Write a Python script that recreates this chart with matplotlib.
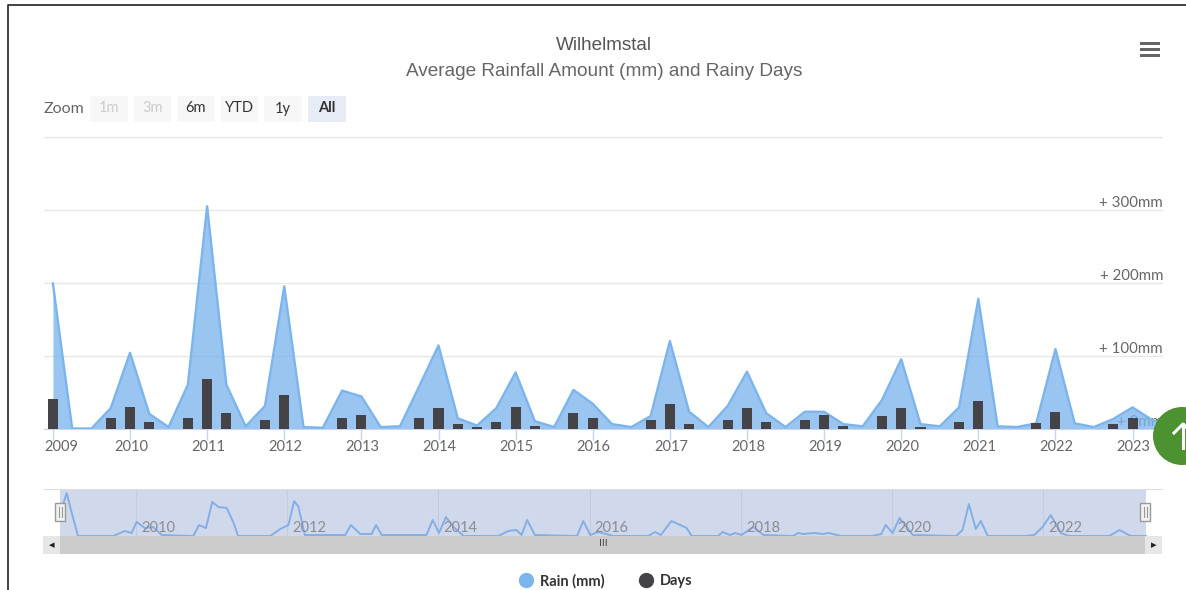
import numpy as np
import matplotlib
matplotlib.use('Agg')
import matplotlib.pyplot as plt
from matplotlib.lines import Line2D
from matplotlib.patches import Circle, Rectangle
from matplotlib.transforms import ScaledTranslation

W, H = 1186, 590

# quarterly values, first point is Jan 2009, then Apr, Jul, Oct ...
rain = [199, 0, 0, 28, 104, 20, 2, 60, 305, 60, 3, 31, 195, 2, 1, 52,
        44, 2, 3, 58, 114, 14, 4, 28, 77, 10, 2, 53, 34, 6, 2, 17,
        120, 23, 2, 31, 78, 21, 2, 23, 23, 6, 3, 39, 95, 6, 3, 29,
        178, 3, 2, 7, 109, 7, 2, 13, 29, 12, 0]
days = [40, 0, 0, 14, 30, 9, 0, 15, 68, 21, 0, 12, 46, 0, 0, 15,
        19, 0, 0, 14, 28, 6, 2, 9, 30, 4, 0, 21, 14, 0, 0, 12,
        33, 6, 0, 11, 28, 9, 0, 11, 18, 3, 0, 17, 28, 2, 0, 9,
        38, 0, 0, 7, 22, 0, 0, 6, 15, 0, 0]
years = list(range(2009, 2024))
y_ticks = [0, 100, 200, 300, 400]
y_labels = ['+ 0mm', '+ 100mm', '+ 200mm', '+ 300mm', '']

# navigator line, month counted from Jan 2009 and relative height
nav_month = [0, 1, 1.8, 2.8, 8.4, 10.2, 11.3, 12.1, 13.4, 14.7, 16.1, 21.1, 22, 23.1, 24.1, 25.1, 26.4,
             27.5, 28.2, 33.3, 34.9, 36.2, 37.1, 37.8, 38.8, 45.2, 46.1, 47.6, 49.4, 50.1, 51, 57.1, 58.1,
             59.1, 60.1, 61.2, 62.4, 64, 69.5, 71.1, 72.4, 73.2, 74.1, 75.3, 82, 83, 84.1, 85.4, 87.8,
             93.3, 94.4, 95.3, 97, 99.4, 100.2, 104.4, 105.1, 106.3, 107.1, 108.1, 110, 111.6, 116.3,
             117.1, 117.9, 119.7, 121, 122, 123.9, 128.9, 130.3, 131, 132.1, 133.2, 135.3, 142.2, 143.2,
             144.2, 145.3, 146.1, 147.2, 153, 154.6, 155.9, 157.2, 158.8, 160.1, 166.5, 168.1, 169.9, 172.3]
nav_val = [23, 43, 23, 0, 0, 5, 3, 14, 8, 9, 1, 0, 11, 8, 34, 29, 28,
           13, 0, 0, 7, 11, 35, 29, 1, 1, 11, 2, 2, 11, 1, 1, 1,
           16, 3, 19, 9, 0, 0, 5, 6, 1, 16, 1, 0, 15, 1, 4, 0,
           0, 4, 1, 15, 8, 0, 0, 4, 1, 3, 1, 9, 1, 0,
           3, 2, 3, 2, 3, 0, 0, 2, 11, 3, 18, 1, 0, 6,
           32, 7, 15, 0, 0, 1, 9, 21, 3, 0, 0, 6, 0, 0]
nav_years = [2010, 2012, 2014, 2016, 2018, 2020, 2022]

buttons = ['1m', '3m', '6m', 'YTD', '1y', 'All']

UI = 'Lato'
BLUE = '#7cb5ec'
DARK = '#434348'


def px_axes(x0, x1, y_top, y_bot):
    return fig.add_axes([x0 / W, 1 - y_bot / H, (x1 - x0) / W, (y_bot - y_top) / H])


fig = plt.figure(figsize=(W / 100, H / 100), dpi=100, facecolor='white')

# main chart
ax = px_axes(44, 1163, 137, 428.5)
q = np.arange(len(rain))
ax.fill_between(q, rain, color=BLUE, alpha=0.78, lw=0, zorder=2)
ax.plot(q, rain, color=BLUE, lw=1.7, zorder=3)
ax.bar(q, days, width=0.52, color=DARK, zorder=4)
ax.set_xlim((44 - 52.9) / 19.28, (1163 - 52.9) / 19.28)
ax.set_ylim(0, 400)
ax.set_xticks(np.arange(len(years)) * 4)
ax.set_xticklabels(years, family=UI, fontsize=10.5, color='#666666')
ax.tick_params(axis='x', length=8, width=1, color='#ccd6eb', pad=0)
ax.yaxis.tick_right()
ax.set_yticks(y_ticks)
ax.set_yticklabels(y_labels, family=UI, fontsize=10.8, color='#666666', ha='right', va='bottom')
ax.tick_params(axis='y', length=0, pad=0)
ax.grid(axis='y', color='#e6e6e6', lw=1)
ax.set_axisbelow(True)
for side in ['top', 'left', 'right']:
    ax.spines[side].set_visible(False)
ax.spines['bottom'].set_color('#ccd6eb')
for i, lab in enumerate(ax.get_xticklabels()):
    shift = 8 if i == 0 else 1
    lab.set_transform(lab.get_transform() + ScaledTranslation(shift / 100, 0, fig.dpi_scale_trans))

# navigator
nav = px_axes(44, 1162, 489, 536)
nav.set_xlim((44 - 60.4) / 6.3, (1162 - 60.4) / 6.3)
nav.set_ylim(0, 47)
nav.axvspan(0, 172.3, color='#d0d9eb', lw=0, zorder=1)
nav.plot(nav_month, nav_val, color='#84aee6', lw=1.4, zorder=3, solid_joinstyle='round')
for yr in nav_years:
    m = (yr - 2009) * 12
    nav.axvline(m, color='#c4cbdb', lw=0.8, zorder=2)
    nav.text(m + 0.8, 8.5, str(yr), family=UI, fontsize=10.5, color='#8c8c94', va='center', zorder=4)
nav.set_xticks([])
nav.set_yticks([])
for side in ['left', 'right', 'bottom']:
    nav.spines[side].set_visible(False)
nav.spines['top'].set_color('#dddddd')

# legend
handles = [Line2D([], [], ls='', marker='o', ms=10, color=BLUE),
           Line2D([], [], ls='', marker='o', ms=10, color=DARK)]
fig.legend(handles, ['Rain (mm)', 'Days'], ncol=2, frameon=False, loc='center',
           bbox_to_anchor=(602 / W, 1 - 581 / H), handletextpad=-0.1, columnspacing=1.9,
           prop={'family': UI, 'weight': 'bold', 'size': 10.5}, labelcolor='#333333')

# page parts in pixel coordinates
ui = fig.add_axes([0, 0, 1, 1], zorder=5)
ui.set_xlim(0, W)
ui.set_ylim(H, 0)
ui.axis('off')
ui.plot([7.5, 7.5, W], [H, 4.5, 4.5], color='#333333', lw=1.3)
ui.text(604, 45, 'Wilhelmstal', family='Liberation Sans', fontsize=13.6, color='#555555', ha='center', va='center')
ui.text(604, 72, 'Average Rainfall Amount (mm) and Rainy Days', family='Liberation Sans', fontsize=13.65,
        color='#666666', ha='center', va='center')
ui.text(44, 109, 'Zoom', family=UI, fontsize=11.5, color='#666666', va='center')
for i, b in enumerate(buttons):
    x0 = 90 + i * 43.6
    bg = '#e6ebf5' if b == 'All' else '#f7f7f7'
    col = '#cccccc' if b in ('1m', '3m') else '#333333'
    ui.add_patch(Rectangle((x0, 96), 37.5, 26, color=bg, lw=0))
    ui.text(x0 + 18.7, 108.5, b, family=UI, fontsize=10.5, color=col, ha='center', va='center',
            weight='bold' if b == 'All' else 'normal')
for y0 in [42, 48, 54]:
    ui.add_patch(Rectangle((1140, y0), 19.5, 3.2, color='#666666', lw=0))

# scrollbar
ui.add_patch(Rectangle((60, 536), 1085, 18, color='#cccccc', lw=0))
for x0, arrow in [(43, '◂'), (1145, '▸')]:
    ui.add_patch(Rectangle((x0, 536), 17, 18, color='#e6e6e6', lw=0))
    ui.text(x0 + 8.5, 545, arrow, fontsize=8, color='#222222', ha='center', va='center')
ui.text(603, 544, 'III', family=UI, fontsize=7.5, color='#444444', ha='center', va='center')
for x0 in [60, 1145]:
    ui.add_patch(Rectangle((x0 - 5, 503), 10, 18, fc='#f2f2f2', ec='#999999', lw=1))
    ui.plot([x0 - 1.5, x0 - 1.5], [507, 517], color='#999999', lw=0.8)
    ui.plot([x0 + 1.5, x0 + 1.5], [507, 517], color='#999999', lw=0.8)

# back to top button, arrow is an icon
ui.add_patch(Circle((1182, 436), 29, color='#4c9230', lw=0))
ui.plot([1183, 1183], [424, 448], color='white', lw=2.2)
ui.plot([1174, 1183, 1192], [433, 424, 433], color='white', lw=2.2)

fig.savefig('out.png', dpi=100)
